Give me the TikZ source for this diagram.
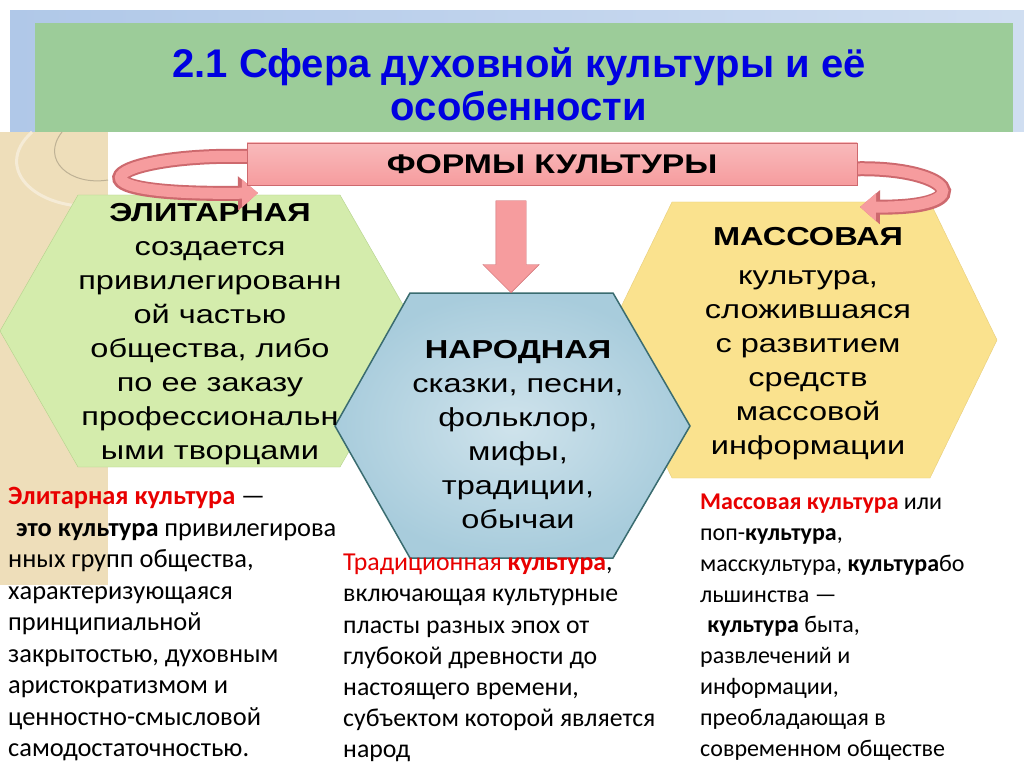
\documentclass[tikz,border=0pt]{standalone}
\usepackage{fontspec}
\setmainfont{Liberation Sans}
\newfontfamily\hexfont[FakeStretch=1.25]{Liberation Sans}
\newfontfamily\titlefont{Liberation Sans}
\newfontfamily\notefont{Carlito}
\usetikzlibrary{arrows.meta, shapes.arrows, calc, positioning}

\definecolor{titleblue}{RGB}{0,0,225}
\definecolor{bandgreen}{RGB}{156,204,153}
\definecolor{bandblue}{RGB}{176,200,232}
\definecolor{paneltan}{RGB}{238,222,186}
\definecolor{hexgreen}{RGB}{212,236,172}
\definecolor{greenedge}{RGB}{180,210,140}
\definecolor{hexyellow}{RGB}{250,226,142}
\definecolor{yellowedge}{RGB}{232,205,120}
\definecolor{hexblue}{RGB}{168,204,220}
\definecolor{blueedge}{RGB}{58,108,112}
\definecolor{formpink}{RGB}{246,156,158}
\definecolor{formedge}{RGB}{205,105,110}
\definecolor{defred}{RGB}{232,0,0}

\begin{document}
\begin{tikzpicture}[x=1pt, y=-1pt,
  hexbody/.style={align=center, inner sep=0, font=\hexfont\fontsize{26}{34}\selectfont},
  note/.style 2 args={align=left, anchor=north west, inner sep=0, font=\notefont\fontsize{#1}{#2}\selectfont},
  formbar/.style={draw=formedge, top color=formpink!70!white, bottom color=formpink,
    minimum width=610pt, minimum height=42pt, inner sep=0,
    font=\hexfont\bfseries\fontsize{27}{30}\selectfont},
  curlout/.style={line width=15pt, draw=formedge, -{Triangle[length=20pt,width=33pt]}},
  curlin/.style={line width=11pt, draw=formpink, -{Triangle[length=16pt,width=27pt]}},
  downarrow/.style={single arrow, shape border rotate=270, draw=formedge,
    fill=formpink, minimum height=92pt, inner sep=15pt,
    single arrow head extend=13pt}]
\useasboundingbox (0,0) rectangle (1024,767);
\fill[white] (0,0) rectangle (1024,767);

% title band
\shade[left color=bandblue, right color=bandblue!60!white] (10,11) rectangle (1024,132);
\fill[bandgreen] (35,23) rectangle (1013,132);
\node[align=center, text=titleblue, font=\titlefont\bfseries\fontsize{40}{43}\selectfont]
  (title) at (519,84) {2.1 Сфера духовной культуры и её\\особенности};

% left panel
\fill[paneltan] (0,132) rectangle (108,585);
\draw[paneltan!60!white, line width=3pt] (108,205) .. controls (40,215) and (-10,170) .. (32,132);
\draw[paneltan!80!black, line width=1pt] (108,180) .. controls (70,186) and (40,160) .. (62,132);

% hexagons
\draw[greenedge, fill=hexgreen] (78,195) -- (340,195) -- (418,331) -- (340,467)
  -- (78,467) -- (0,331) -- cycle;
\draw[yellowedge, fill=hexyellow] (672,202) -- (930,202) -- (997,340) -- (930,478)
  -- (672,478) -- (605,340) -- cycle;
\draw[blueedge, line width=1.5pt, inner color=hexblue!55!white, outer color=hexblue]
  (410,293) -- (613,293) -- (690,426) -- (613,558) -- (410,558) -- (335,426) -- cycle;
\coordinate (ntop) at (511,293);

\node[hexbody] (elite) at (210,334) {\textbf{ЭЛИТАРНАЯ}\\создается\\привилегированн\\ой частью\\общества, либо\\по ее заказу\\профессиональн\\ыми творцами};
\node[hexbody] (narod) at (518,435) {\textbf{НАРОДНАЯ}\\сказки, песни,\\фольклор,\\мифы,\\традиции,\\обычаи};
\node[hexbody] (massa) at (808,344) {\textbf{МАССОВАЯ}\\[5pt]культура,\\сложившаяся\\с развитием\\средств\\массовой\\информации};

% forms and arrows
\node[formbar] (forms) at (552,164) {ФОРМЫ КУЛЬТУРЫ};
\coordinate (ltip) at (258,193);
\coordinate (rtip) at (860,207);
\draw[curlout] ($(forms.west)+(14,-7)$) .. controls (120,150) and (40,196) .. (ltip);
\draw[curlin] ($(forms.west)+(14,-7)$) .. controls (120,150) and (40,196) .. (ltip);
\draw[curlout] ($(forms.east)+(-8,5)$) .. controls (950,165) and (985,208) .. (rtip);
\draw[curlin] ($(forms.east)+(-8,5)$) .. controls (950,165) and (985,208) .. (rtip);
\node[formbar] at (forms) {ФОРМЫ КУЛЬТУРЫ};
\node[downarrow, anchor=tip] (fall) at (ntop) {};

% definitions
\node[note={26.4}{31.5}] (elitedef) at (8,487) {\textcolor{defred}{\textbf{Элитарная культура}} —\\
\hspace*{0.3em}\textbf{это культура} привилегирова\\
нных групп общества,\\
характеризующаяся\\
принципиальной\\
закрытостью, духовным\\
аристократизмом и\\
ценностно-смысловой\\
самодостаточностью.};
\node[note={25.8}{31.2}] (narodef) at (343,554) {\textcolor{defred}{Традиционная \textbf{культура}},\\
включающая культурные\\
пласты разных эпох от\\
глубокой древности до\\
настоящего времени,\\
субъектом которой является\\
народ};
\node[note={24}{30.8}] (massdef) at (700,494) {\textcolor{defred}{\textbf{Массовая культура}} или\\
поп-\textbf{культура},\\
масскультура, \textbf{культура}бо\\
льшинства —\\
\hspace*{0.3em}\textbf{культура} быта,\\
развлечений и\\
информации,\\
преобладающая в\\
современном обществе};
\end{tikzpicture}
\end{document}
